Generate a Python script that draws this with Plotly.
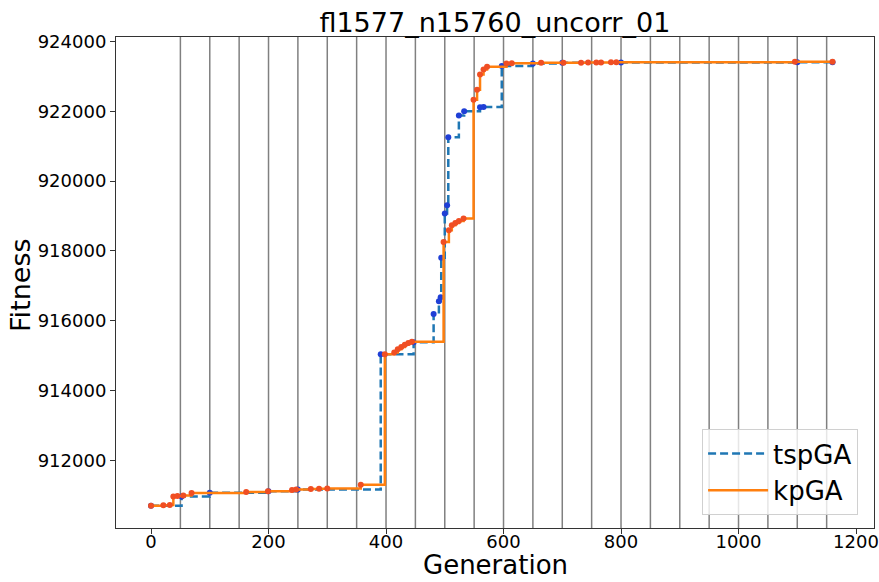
import plotly.graph_objects as go

# Best-so-far fitness per generation (improvement points only; steps hold until next point)
tsp_gen = [0, 52, 100, 200, 250, 391, 447, 481, 490, 493, 494, 500, 504, 506, 524, 533,
           560, 566, 597, 650, 700, 800, 1100, 1160]
tsp_fit = [910700, 910964, 911070, 911110, 911160, 915042, 915380, 916193, 916556, 916671,
           917805, 919071, 919310, 921258, 921880, 922000, 922120, 922125, 923300, 923370,
           923390, 923400, 923410, 923410]

kp_gen = [0, 21, 32, 38, 45, 55, 69, 162, 199, 240, 247, 272, 286, 300, 357, 398, 414, 420,
          426, 432, 438, 444, 498, 507, 512, 518, 524, 532, 549, 555, 560, 566, 572, 605,
          614, 664, 702, 732, 744, 758, 766, 783, 792, 1096, 1160]
kp_fit = [910700, 910710, 910720, 910964, 910975, 910990, 911060, 911090, 911110, 911150,
          911160, 911180, 911185, 911190, 911300, 915042, 915088, 915180, 915250, 915310,
          915360, 915396, 918254, 918590, 918734, 918800, 918858, 918927, 922332, 922620,
          923052, 923196, 923274, 923370, 923375, 923390, 923392, 923395, 923398, 923400,
          923402, 923405, 923408, 923420, 923420]

# Generations where the population was restarted (vertical markers)
restart_gens = list(range(50, 1151, 50))

x_ticks = [0, 200, 400, 600, 800, 1000, 1200]
y_ticks = [912000, 914000, 916000, 918000, 920000, 922000, 924000]

FONT = "DejaVu Sans"

fig = go.Figure()

fig.add_trace(go.Scatter(
    x=tsp_gen, y=tsp_fit, mode="lines", line_shape="hv", name="tspGA",
    line=dict(color="#1f77b4", width=2.5, dash="8px,4px"),
))
fig.add_trace(go.Scatter(
    x=tsp_gen, y=tsp_fit, mode="markers", showlegend=False,
    marker=dict(color="#1f3fd6", size=6),
))
fig.add_trace(go.Scatter(
    x=kp_gen, y=kp_fit, mode="lines", line_shape="hv", name="kpGA",
    line=dict(color="#ff7f0e", width=2.5),
))
fig.add_trace(go.Scatter(
    x=kp_gen, y=kp_fit, mode="markers", showlegend=False,
    marker=dict(color="#f04e23", size=6),
))

for g in restart_gens:
    fig.add_shape(type="line", xref="x", yref="paper", x0=g, x1=g, y0=0, y1=1,
                  line=dict(color="#808080", width=1.5), layer="below")

axis_common = dict(
    showgrid=False, zeroline=False, showline=True, linecolor="#333333", linewidth=1,
    mirror=True, ticks="outside", ticklen=5, tickcolor="#333333", automargin=False,
    ticklabeloverflow="allow",
    tickfont=dict(family=FONT, size=18, color="black"),
)

# Axis titles placed as paper-anchored labels
fig.add_annotation(text="Generation", xref="paper", yref="paper", x=0.5, y=-0.1075,
                   xanchor="center", yanchor="bottom", showarrow=False, borderpad=0,
                   font=dict(family=FONT, size=26, color="black"))
fig.add_annotation(text="Fitness", xref="paper", yref="paper", x=-0.1253, y=0.495,
                   xanchor="center", yanchor="middle", textangle=-90, showarrow=False,
                   font=dict(family=FONT, size=27, color="black"))

fig.update_layout(
    width=879, height=582,
    margin=dict(l=116, r=5, t=37, b=54),
    paper_bgcolor="white", plot_bgcolor="white",
    font=dict(family=FONT, color="black"),
    title=dict(text="fl1577_n15760_uncorr_01", x=0.563, xanchor="center",
               y=0.962, yanchor="middle", font=dict(family=FONT, size=27, color="black")),
    xaxis=dict(range=[-59.6, 1230.6], tickvals=x_ticks, ticklabelstandoff=-8,
               **axis_common),
    yaxis=dict(range=[910060, 924130], tickvals=y_ticks, tickformat="d",
               **axis_common),
    legend=dict(x=0.979, y=0.0265, xanchor="right", yanchor="bottom",
                bgcolor="rgba(255,255,255,0.8)", bordercolor="#d0d0d0", borderwidth=1,
                font=dict(family=FONT, size=26, color="black"), itemwidth=60),
)

fig.write_html("out.html")
